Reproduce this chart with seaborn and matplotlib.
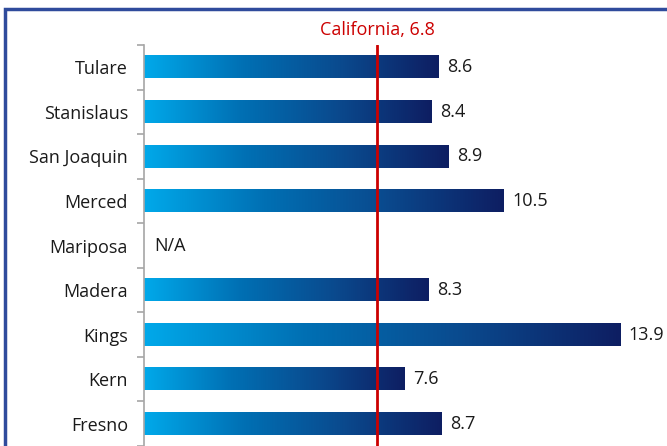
import numpy as np
import pandas as pd
import matplotlib
matplotlib.use("Agg")
import matplotlib.pyplot as plt
import seaborn as sns
from matplotlib.colors import LinearSegmentedColormap
from matplotlib.patches import Rectangle

counties = ["Tulare", "Stanislaus", "San Joaquin", "Merced", "Mariposa",
            "Madera", "Kings", "Kern", "Fresno"]
values = [8.6, 8.4, 8.9, 10.5, np.nan, 8.3, 13.9, 7.6, 8.7]
state_name = "California"
state_value = 6.8

sns.set_theme(style="white")
plt.rcParams["font.family"] = ["Open Sans", "DejaVu Sans"]

df = pd.DataFrame({"county": counties, "value": values})

fig = plt.figure(figsize=(6.67, 4.46), dpi=100)
ax = fig.add_axes([0.216, 0.0, 0.76, 0.899])

sns.barplot(data=df, x="value", y="county", order=counties, orient="h",
            color="#0070C0", width=0.5, ax=ax, errorbar=None)

cmap = LinearSegmentedColormap.from_list(
    "bluegrad", ["#00A9EA", "#0070B4", "#0A4A8E", "#0E1E62"])
grad = np.linspace(0, 1, 256).reshape(1, -1)

ax.set_xlim(0, 14.8)
ax.set_ylim(len(counties) - 0.5, -0.5)

for patch in list(ax.patches):
    w = patch.get_width()
    if not np.isfinite(w) or w <= 0:
        continue
    x0, y0 = patch.get_x(), patch.get_y()
    h = patch.get_height()
    patch.set_alpha(0)
    ax.imshow(grad, extent=(x0, x0 + w, y0 + h, y0), aspect="auto",
              cmap=cmap, zorder=2, interpolation="bicubic")

ax.set_xlim(0, 14.8)
ax.set_ylim(len(counties) - 0.5, -0.5)

fs = 13
for i, v in enumerate(values):
    if np.isfinite(v):
        ax.text(v + 0.25, i, f"{v:.1f}", va="center", ha="left",
                fontsize=fs, color="#1A1A1A")
    else:
        ax.text(0.3, i, "N/A", va="center", ha="left",
                fontsize=fs, color="#1A1A1A")

ax.axvline(state_value, color="#CC0000", lw=2, zorder=3)
ax.text(state_value, -0.64, f"{state_name}, {state_value}", ha="center",
        va="bottom", fontsize=fs, color="#CC0000", clip_on=False)

for s in ["top", "right", "bottom"]:
    ax.spines[s].set_visible(False)
ax.spines["left"].set_color("#A6A6A6")
ax.spines["left"].set_linewidth(1.2)

ax.set_xticks([])
ax.set_yticks(range(len(counties)))
ax.set_yticklabels(counties, fontsize=fs, color="#1A1A1A")
ax.set_yticks(np.arange(-0.5, len(counties), 1.0), minor=True)
ax.tick_params(axis="y", which="major", length=0, pad=11.5)
ax.tick_params(axis="y", which="minor", length=5, width=1.2,
               color="#A6A6A6", left=True)
ax.set_xlabel("")
ax.set_ylabel("")

frame = Rectangle((5 / 667, -0.1), 1.2, 1 - 8.5 / 446 + 0.1,
                  transform=fig.transFigure, fill=False,
                  edgecolor="#2F4B9C", lw=2.5, zorder=10)
fig.patches.append(frame)

fig.savefig("out.png", dpi=100)
